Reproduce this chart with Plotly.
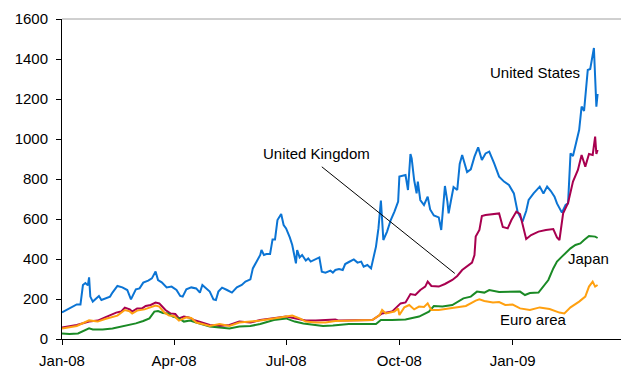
import plotly.graph_objects as go

# === Data ===
us_dates = [
    "2008-01-01", "2008-01-05", "2008-01-09", "2008-01-13", "2008-01-16", "2008-01-18",
    "2008-01-20", "2008-01-22", "2008-01-23", "2008-01-24", "2008-01-26", "2008-01-28",
    "2008-01-31", "2008-02-02", "2008-02-06", "2008-02-09", "2008-02-11", "2008-02-15",
    "2008-02-19", "2008-02-23", "2008-02-26", "2008-03-01", "2008-03-04", "2008-03-07",
    "2008-03-11", "2008-03-14", "2008-03-17", "2008-03-19", "2008-03-22", "2008-03-26",
    "2008-03-30", "2008-04-03", "2008-04-06", "2008-04-08", "2008-04-11", "2008-04-15",
    "2008-04-19", "2008-04-22", "2008-04-24", "2008-04-27", "2008-04-30", "2008-05-03",
    "2008-05-05", "2008-05-07", "2008-05-10", "2008-05-14", "2008-05-18", "2008-05-22",
    "2008-05-26", "2008-05-29", "2008-06-02", "2008-06-04", "2008-06-08", "2008-06-10",
    "2008-06-11", "2008-06-13", "2008-06-15", "2008-06-18", "2008-06-20", "2008-06-22",
    "2008-06-24", "2008-06-27", "2008-06-29", "2008-07-01", "2008-07-04", "2008-07-06",
    "2008-07-09", "2008-07-10", "2008-07-12", "2008-07-14", "2008-07-17", "2008-07-19",
    "2008-07-21", "2008-07-25", "2008-07-28", "2008-07-30", "2008-08-02", "2008-08-06",
    "2008-08-08", "2008-08-10", "2008-08-13", "2008-08-16", "2008-08-18", "2008-08-21",
    "2008-08-25", "2008-08-28", "2008-08-31", "2008-09-02", "2008-09-05", "2008-09-08",
    "2008-09-10", "2008-09-12", "2008-09-14", "2008-09-16", "2008-09-17", "2008-09-18",
    "2008-09-21", "2008-09-24", "2008-09-27", "2008-09-30", "2008-10-01", "2008-10-03",
    "2008-10-06", "2008-10-08", "2008-10-10", "2008-10-11", "2008-10-13", "2008-10-15",
    "2008-10-16", "2008-10-18", "2008-10-21", "2008-10-24", "2008-10-26", "2008-10-29",
    "2008-11-02", "2008-11-04", "2008-11-07", "2008-11-09", "2008-11-10", "2008-11-12",
    "2008-11-14", "2008-11-17", "2008-11-19", "2008-11-21", "2008-11-25", "2008-11-28",
    "2008-12-01", "2008-12-04", "2008-12-07", "2008-12-10", "2008-12-13", "2008-12-17",
    "2008-12-21", "2008-12-25", "2008-12-29", "2009-01-02", "2009-01-05", "2009-01-09",
    "2009-01-12", "2009-01-14", "2009-01-18", "2009-01-23", "2009-01-26", "2009-01-29",
    "2009-02-01", "2009-02-04", "2009-02-06", "2009-02-10", "2009-02-13", "2009-02-15",
    "2009-02-17", "2009-02-19", "2009-02-21", "2009-02-24", "2009-02-26", "2009-02-28",
    "2009-03-03", "2009-03-05", "2009-03-08", "2009-03-10", "2009-03-11",
]
us_values = [
    133, 145, 158, 173, 173, 270,
    280, 268, 308, 212, 187, 198,
    215, 195, 203, 212, 232, 265,
    258, 245, 198, 248, 253, 282,
    292, 303, 337, 295, 283, 258,
    262, 245, 215, 212, 248, 258,
    253, 232, 270, 255, 237, 198,
    195, 237, 257, 245, 232, 258,
    270, 287, 298, 353, 403, 420,
    445, 420, 425, 425, 498, 498,
    595, 625, 570, 553, 508, 470,
    378, 445, 408, 420, 392, 403,
    387, 398, 408, 337, 332, 342,
    332, 345, 350, 345, 375, 385,
    398, 382, 387, 362, 370, 353,
    403, 462, 553, 692, 595, 495,
    537, 595, 637, 687, 812, 815,
    820, 745, 925, 903, 795, 728,
    787, 695, 670, 712, 648, 618,
    608, 545, 765, 687, 628, 695,
    760, 745, 875, 920, 835, 848,
    912, 958, 895, 928, 937, 878,
    812, 787, 770, 728, 637, 587,
    640, 695, 728, 762, 728, 762,
    740, 712, 678, 632, 670, 678,
    928, 915, 962, 1045, 1162, 1140,
    1345, 1350, 1455, 1162, 1225,
]

uk_dates = [
    "2008-01-01", "2008-01-05", "2008-01-13", "2008-01-23", "2008-01-30", "2008-02-05",
    "2008-02-10", "2008-02-14", "2008-02-18", "2008-02-21", "2008-02-25", "2008-02-27",
    "2008-03-02", "2008-03-06", "2008-03-09", "2008-03-13", "2008-03-17", "2008-03-20",
    "2008-03-22", "2008-03-25", "2008-03-29", "2008-04-02", "2008-04-05", "2008-04-09",
    "2008-04-13", "2008-04-17", "2008-04-21", "2008-04-27", "2008-04-30", "2008-05-08",
    "2008-05-16", "2008-05-24", "2008-06-02", "2008-06-10", "2008-06-21", "2008-07-01",
    "2008-07-09", "2008-07-17", "2008-07-25", "2008-08-02", "2008-08-10", "2008-08-13",
    "2008-08-26", "2008-09-09", "2008-09-17", "2008-09-25", "2008-10-02", "2008-10-06",
    "2008-10-10", "2008-10-14", "2008-10-18", "2008-10-22", "2008-10-24", "2008-10-27",
    "2008-11-02", "2008-11-07", "2008-11-13", "2008-11-17", "2008-11-21", "2008-11-25",
    "2008-11-29", "2008-12-01", "2008-12-02", "2008-12-05", "2008-12-07", "2008-12-10",
    "2008-12-16", "2008-12-21", "2008-12-24", "2008-12-28", "2008-12-31", "2009-01-04",
    "2009-01-07", "2009-01-09", "2009-01-12", "2009-01-16", "2009-01-22", "2009-01-28",
    "2009-02-03", "2009-02-06", "2009-02-08", "2009-02-11", "2009-02-15", "2009-02-19",
    "2009-02-23", "2009-02-26", "2009-03-01", "2009-03-04", "2009-03-07", "2009-03-09",
    "2009-03-10", "2009-03-11",
]
uk_values = [
    57, 62, 70, 87, 92, 108,
    120, 132, 137, 157, 148, 137,
    153, 153, 165, 170, 182, 178,
    165, 145, 128, 125, 103, 112,
    108, 95, 88, 75, 70, 65,
    70, 87, 82, 95, 103, 112,
    103, 92, 92, 95, 98, 92,
    92, 95, 128, 137, 178, 183,
    225, 220, 245, 262, 287, 265,
    262, 275, 295, 315, 345, 365,
    382, 420, 512, 545, 615, 620,
    625, 628, 560, 553, 595, 637,
    625, 578, 500, 520, 537, 545,
    550, 508, 495, 628, 680, 787,
    845, 920, 862, 925, 920, 1012,
    925, 945,
]

jp_dates = [
    "2008-01-01", "2008-01-07", "2008-01-14", "2008-01-19", "2008-01-23", "2008-01-26",
    "2008-02-03", "2008-02-11", "2008-02-19", "2008-02-23", "2008-03-01", "2008-03-07",
    "2008-03-12", "2008-03-16", "2008-03-19", "2008-03-23", "2008-03-27", "2008-03-31",
    "2008-04-05", "2008-04-09", "2008-04-14", "2008-04-19", "2008-04-25", "2008-04-30",
    "2008-05-08", "2008-05-16", "2008-05-24", "2008-06-02", "2008-06-10", "2008-06-21",
    "2008-07-01", "2008-07-08", "2008-07-15", "2008-07-23", "2008-07-31", "2008-08-08",
    "2008-08-13", "2008-08-21", "2008-09-12", "2008-09-16", "2008-09-25", "2008-10-06",
    "2008-10-17", "2008-10-25", "2008-10-29", "2008-11-05", "2008-11-13", "2008-11-18",
    "2008-11-22", "2008-11-28", "2008-12-03", "2008-12-09", "2008-12-13", "2008-12-21",
    "2008-12-29", "2009-01-07", "2009-01-11", "2009-01-15", "2009-01-22", "2009-01-26",
    "2009-01-30", "2009-02-03", "2009-02-06", "2009-02-10", "2009-02-14", "2009-02-17",
    "2009-02-21", "2009-02-25", "2009-02-28", "2009-03-04", "2009-03-09", "2009-03-11",
]
jp_values = [
    28, 25, 28, 42, 53, 48,
    48, 53, 62, 70, 78, 90,
    103, 137, 140, 130, 128, 112,
    103, 87, 92, 82, 73, 62,
    58, 53, 62, 65, 75, 95,
    103, 87, 78, 70, 65, 67,
    70, 75, 75, 95, 95, 98,
    112, 137, 165, 162, 170, 187,
    203, 212, 237, 232, 245, 235,
    237, 237, 220, 230, 232, 262,
    295, 353, 387, 412, 437, 453,
    470, 478, 495, 515, 512, 505,
]

eu_dates = [
    "2008-01-01", "2008-01-13", "2008-01-23", "2008-01-30", "2008-02-05", "2008-02-11",
    "2008-02-15", "2008-02-21", "2008-02-25", "2008-02-27", "2008-03-02", "2008-03-08",
    "2008-03-12", "2008-03-17", "2008-03-20", "2008-03-24", "2008-03-28", "2008-04-01",
    "2008-04-05", "2008-04-11", "2008-04-15", "2008-04-19", "2008-04-24", "2008-04-30",
    "2008-05-08", "2008-05-16", "2008-05-24", "2008-06-02", "2008-06-10", "2008-06-21",
    "2008-07-01", "2008-07-06", "2008-07-12", "2008-07-17", "2008-07-25", "2008-08-02",
    "2008-08-10", "2008-08-18", "2008-08-29", "2008-09-09", "2008-09-15", "2008-09-17",
    "2008-09-20", "2008-09-27", "2008-09-30", "2008-10-01", "2008-10-05", "2008-10-09",
    "2008-10-13", "2008-10-17", "2008-10-21", "2008-10-24", "2008-10-27", "2008-11-02",
    "2008-11-10", "2008-11-18", "2008-11-24", "2008-12-02", "2008-12-05", "2008-12-09",
    "2008-12-16", "2008-12-21", "2008-12-26", "2009-01-01", "2009-01-07", "2009-01-15",
    "2009-01-23", "2009-01-31", "2009-02-08", "2009-02-12", "2009-02-17", "2009-02-24",
    "2009-03-01", "2009-03-04", "2009-03-07", "2009-03-09", "2009-03-11",
]
eu_values = [
    53, 65, 93, 87, 100, 108,
    117, 145, 138, 127, 142, 148,
    157, 167, 162, 133, 117, 115,
    92, 108, 105, 82, 75, 65,
    75, 65, 82, 87, 92, 103,
    112, 117, 103, 87, 82, 82,
    90, 92, 92, 95, 120, 145,
    128, 137, 153, 120, 158, 170,
    148, 162, 160, 178, 145, 145,
    153, 162, 165, 192, 198, 190,
    182, 185, 170, 172, 153, 145,
    158, 150, 132, 128, 158, 187,
    212, 262, 287, 262, 270,
]

tick_dates = ["2008-01-01", "2008-04-01", "2008-07-01", "2008-10-01", "2009-01-01"]
tick_labels = ["Jan-08", "Apr-08", "Jul-08", "Oct-08", "Jan-09"]

FONT = "Liberation Sans, Arial, sans-serif"

# === Plot ===
fig = go.Figure()
fig.add_trace(go.Scatter(x=us_dates, y=us_values, mode="lines", name="United States",
                         line=dict(color="#0B74D4", width=2)))
fig.add_trace(go.Scatter(x=uk_dates, y=uk_values, mode="lines", name="United Kingdom",
                         line=dict(color="#A8004F", width=2)))
fig.add_trace(go.Scatter(x=jp_dates, y=jp_values, mode="lines", name="Japan",
                         line=dict(color="#1A8A25", width=2)))
fig.add_trace(go.Scatter(x=eu_dates, y=eu_values, mode="lines", name="Euro area",
                         line=dict(color="#FFA010", width=2)))

# series labels
labels = [
    ("United States", "2009-01-19", 1335),
    ("United Kingdom", "2008-07-26", 930),
    ("Japan", "2009-03-04", 405),
    ("Euro area", "2009-01-18", 100),
]
for text, x, y in labels:
    fig.add_annotation(x=x, y=y, text=text, showarrow=False, xanchor="center",
                       yanchor="middle", font=dict(family=FONT, size=15, color="black"))

# leader line for United Kingdom
fig.add_shape(type="line", x0="2008-07-30", y0=861, x1="2008-11-15", y1=328,
              line=dict(color="black", width=1))
# grey line along the top
fig.add_shape(type="line", xref="paper", yref="paper", x0=0, x1=1, y0=1, y1=1,
              line=dict(color="#A0A0A0", width=1))

fig.update_layout(
    width=621,
    height=371,
    margin=dict(l=62, r=0, t=19, b=32, autoexpand=False),
    paper_bgcolor="white",
    plot_bgcolor="white",
    showlegend=False,
    font=dict(family=FONT, size=15, color="black"),
    xaxis=dict(
        type="date",
        range=["2008-01-01", "2009-03-30"],
        tickvals=tick_dates,
        ticktext=tick_labels,
        ticks="outside",
        ticklen=5,
        tickcolor="black",
        showline=True,
        linecolor="black",
        linewidth=1,
        showgrid=False,
        zeroline=False,
        automargin=False,
        ticklabelstandoff=3,
    ),
    yaxis=dict(
        range=[0, 1600],
        dtick=200,
        ticks="outside",
        ticklen=5,
        tickcolor="black",
        showline=True,
        linecolor="black",
        linewidth=1,
        showgrid=False,
        zeroline=False,
        automargin=False,
        ticklabelstandoff=5,
    ),
)

# page body has a default 8px margin; remove it so the chart fills the window
fig.write_html("out.html",
               config={"displayModeBar": False},
               post_script="document.body.style.margin='0';document.body.style.overflow='hidden';")
